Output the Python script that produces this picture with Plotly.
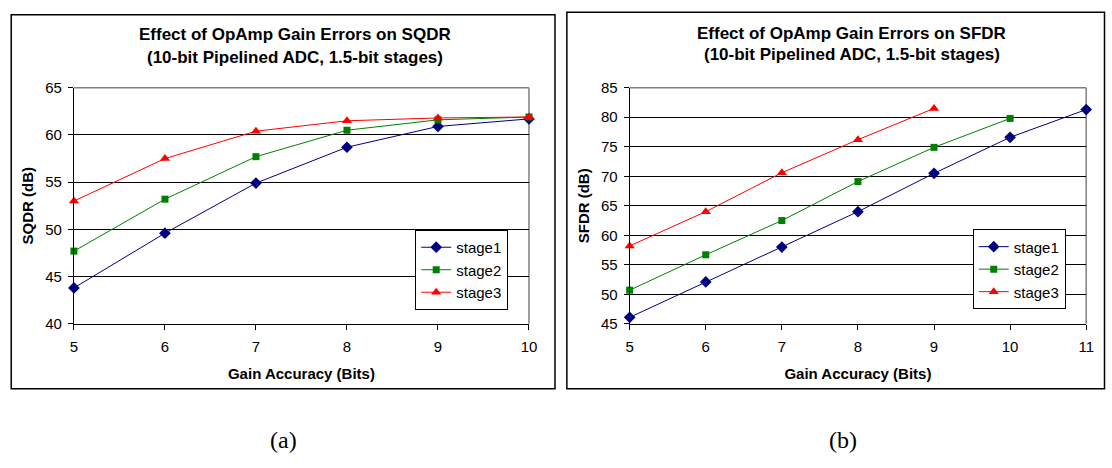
import plotly.graph_objects as go

# ---- data ----
bits_sqdr = [5, 6, 7, 8, 9, 10]
sqdr_stage1 = [43.8, 49.6, 54.9, 58.7, 60.9, 61.7]
sqdr_stage2 = [47.7, 53.2, 57.7, 60.5, 61.6, 61.9]
sqdr_stage3 = [53.0, 57.5, 60.4, 61.5, 61.8, 61.9]

bits_sfdr_stage1 = [5, 6, 7, 8, 9, 10, 11]
bits_sfdr_stage2 = [5, 6, 7, 8, 9, 10]
bits_sfdr_stage3 = [5, 6, 7, 8, 9]
sfdr_stage1 = [46.1, 52.1, 58.0, 64.0, 70.5, 76.6, 81.3]
sfdr_stage2 = [50.7, 56.7, 62.5, 69.1, 74.9, 79.8]
sfdr_stage3 = [58.2, 64.0, 70.6, 76.2, 81.5]

series_names = ["stage1", "stage2", "stage3"]
title_a = ["Effect of OpAmp Gain Errors on SQDR", "(10-bit Pipelined ADC, 1.5-bit stages)"]
title_b = ["Effect of OpAmp Gain Errors on SFDR", "(10-bit Pipelined ADC, 1.5-bit stages)"]
xlabel = "Gain Accuracy (Bits)"
ylabel_a = "SQDR (dB)"
ylabel_b = "SFDR (dB)"
captions = ["(a)", "(b)"]

# ---- styling ----
W, H = 1112, 468
FONT = "Liberation Sans, Arial, sans-serif"
colors = ["#000080", "#008000", "#FF0000"]
symbols = ["diamond", "square", "triangle-up"]
msizes = [9, 7, 9]

def px(x):
    return x / W

def py(y):
    return 1 - y / H

fig = go.Figure()

left_series = [sqdr_stage1, sqdr_stage2, sqdr_stage3]
for i, ys in enumerate(left_series):
    fig.add_trace(go.Scatter(
        x=bits_sqdr, y=ys, name=series_names[i], mode="lines+markers",
        line=dict(color=colors[i], width=1),
        marker=dict(symbol=symbols[i], size=msizes[i], color=colors[i]),
        cliponaxis=False, xaxis="x", yaxis="y", legend="legend",
    ))

right_x = [bits_sfdr_stage1, bits_sfdr_stage2, bits_sfdr_stage3]
right_series = [sfdr_stage1, sfdr_stage2, sfdr_stage3]
for i, ys in enumerate(right_series):
    fig.add_trace(go.Scatter(
        x=right_x[i], y=ys, name=series_names[i], mode="lines+markers",
        line=dict(color=colors[i], width=1),
        marker=dict(symbol=symbols[i], size=msizes[i], color=colors[i]),
        cliponaxis=False, xaxis="x2", yaxis="y2", legend="legend2",
    ))

ydom = [py(326.7), py(81.7)]
axis_title_font = dict(family=FONT, size=15, color="#000")
common_x = dict(
    showgrid=False, showline=True, linecolor="#000", linewidth=1,
    ticks="outside", ticklen=5, tickcolor="#000", tickwidth=1,
    tickfont=dict(family=FONT, size=15, color="#000"), zeroline=False,
    dtick=1, fixedrange=True, ticklabelstandoff=4,
)
common_y = dict(
    showgrid=True, gridcolor="#000", gridwidth=1,
    showline=True, linecolor="#000", linewidth=1,
    ticks="outside", ticklen=5, tickcolor="#000", tickwidth=1,
    tickfont=dict(family=FONT, size=15, color="#000"), zeroline=False,
    dtick=5, fixedrange=True, ticklabelstandoff=3,
)

legend_common = dict(xanchor="left", yanchor="top", bgcolor="white",
                     bordercolor="#000", borderwidth=1,
                     font=dict(family=FONT, size=15, color="#000"),
                     itemwidth=30, tracegroupgap=0)

fig.update_layout(
    width=W, height=H,
    margin=dict(l=0, r=0, t=0, b=0),
    paper_bgcolor="white", plot_bgcolor="white",
    xaxis=dict(common_x, domain=[px(70.7), px(530.7)], range=[5, 10], anchor="y",
               title=dict(text="<b>%s</b>" % xlabel, font=axis_title_font, standoff=14)),
    yaxis=dict(common_y, domain=ydom, range=[40, 65], anchor="x",
               title=dict(text="<b>%s</b>" % ylabel_a, font=axis_title_font, standoff=7)),
    xaxis2=dict(common_x, domain=[px(632.5), px(1094)], range=[5, 11], anchor="y2",
                title=dict(text="<b>%s</b>" % xlabel, font=axis_title_font, standoff=14)),
    yaxis2=dict(common_y, domain=ydom, range=[45, 85], anchor="x2",
                title=dict(text="<b>%s</b>" % ylabel_b, font=axis_title_font, standoff=7)),
    legend=dict(legend_common, x=px(415.7), y=py(229.3)),
    legend2=dict(legend_common, x=px(979.3), y=py(228.7)),
    showlegend=True,
)

# chart frames and plot-area borders (top/right in grey)
shapes = [
    dict(type="rect", xref="paper", yref="paper", x0=px(7.3), x1=px(557), y0=py(394), y1=py(6),
         line=dict(color="#000", width=1.5), layer="below"),
    dict(type="rect", xref="paper", yref="paper", x0=px(569), x1=px(1112.5), y0=py(394), y1=py(3.3),
         line=dict(color="#000", width=1.5), layer="below"),
]
for xa, ya in (("x", "y"), ("x2", "y2")):
    shapes.append(dict(type="line", xref="%s domain" % xa, yref="%s domain" % ya,
                       x0=0, x1=1, y0=1, y1=1, line=dict(color="#808080", width=1.5), layer="below"))
    shapes.append(dict(type="line", xref="%s domain" % xa, yref="%s domain" % ya,
                       x0=1, x1=1, y0=0, y1=1, line=dict(color="#808080", width=1.5), layer="below"))
fig.update_layout(shapes=shapes)

annotations = []
for cx, lines, ys in ((294, title_a, (26.7, 50)), (857, title_b, (25, 47.3))):
    for t, yy in zip(lines, ys):
        annotations.append(dict(text="<b>%s</b>" % t, x=px(cx), y=py(yy), xref="paper", yref="paper",
                                xanchor="center", yanchor="middle", showarrow=False,
                                font=dict(family=FONT, size=17, color="#000")))
for cx, t in ((283, captions[0]), (848, captions[1])):
    annotations.append(dict(text=t, x=px(cx), y=py(447), xref="paper", yref="paper",
                            xanchor="center", yanchor="middle", showarrow=False,
                            font=dict(family="Liberation Serif, Times New Roman, serif", size=24, color="#000")))
fig.update_layout(annotations=annotations)

fig.write_html("out.html")
